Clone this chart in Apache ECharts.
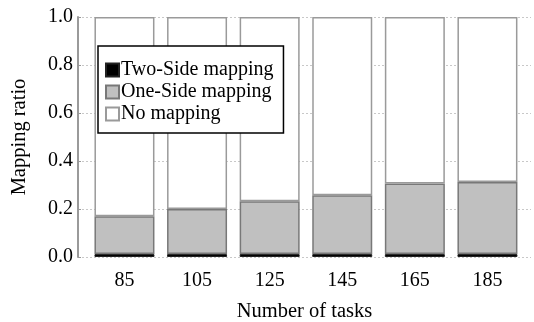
<!DOCTYPE html>
<html>
<head>
<meta charset="utf-8">
<script src="https://cdn.jsdelivr.net/npm/echarts@6/dist/echarts.min.js"></script>
<style>
  html, body { margin: 0; padding: 0; background: #fff; }
  #chart { width: 534px; height: 322px; }
</style>
</head>
<body>
<div id="chart"></div>
<script>
// Number of tasks (x positions) and mapping ratios per category
const tasks = [85, 105, 125, 145, 165, 185];
const twoSide = [0.012, 0.012, 0.012, 0.012, 0.012, 0.012];
const oneSide = [0.158, 0.188, 0.220, 0.245, 0.294, 0.300];
const noMapping = [0.830, 0.800, 0.768, 0.743, 0.694, 0.688];

const FONT = '"Liberation Serif", "Times New Roman", serif';

// value first so the stack runs along the ratio dimension
function pairs(vals) {
  return tasks.map((t, i) => [vals[i], t]);
}

const chart = echarts.init(document.getElementById('chart'), null, { renderer: 'canvas' });
chart.setOption({
  animation: false,
  backgroundColor: '#fff',
  grid: { left: 78, right: 3, top: 17, bottom: 65, containLabel: false, outerBoundsMode: 'none' },
  legend: {
    orient: 'vertical',
    left: 98,
    top: 46,
    padding: [14, 10, 9, 7],
    backgroundColor: '#fff',
    borderColor: '#000',
    borderWidth: 1.5,
    itemWidth: 13,
    itemHeight: 13,
    itemGap: 2,
    icon: 'rect',
    textStyle: { fontFamily: FONT, fontSize: 20, color: '#000', lineHeight: 20, padding: [0, 0, 0, -3] },
    data: ['Two-Side mapping', 'One-Side mapping', 'No mapping']
  },
  xAxis: {
    type: 'value',
    min: 72.2,
    max: 197,
    name: 'Number of tasks',
    nameLocation: 'middle',
    nameGap: 44,
    nameTextStyle: { fontFamily: FONT, fontSize: 20.5, color: '#000' },
    axisLine: { show: false },
    axisTick: { show: false },
    splitLine: { show: false },
    axisLabel: {
      customValues: tasks,
      fontFamily: FONT, fontSize: 20, color: '#000', margin: 14
    }
  },
  yAxis: {
    type: 'value',
    min: 0,
    max: 1,
    interval: 0.2,
    name: 'Mapping ratio',
    nameLocation: 'middle',
    nameGap: 48,
    nameTextStyle: { fontFamily: FONT, fontSize: 20.5, color: '#000' },
    axisLine: { show: true, lineStyle: { color: '#9a9a9a', width: 2 } },
    axisTick: { show: true, inside: true, length: 3, lineStyle: { color: '#9a9a9a' } },
    splitLine: { show: true, lineStyle: { color: '#c8c8c8', type: [2, 2], width: 1 } },
    axisLabel: {
      fontFamily: FONT, fontSize: 20, color: '#000', margin: 5,
      formatter: v => v.toFixed(1)
    }
  },
  series: [
    {
      name: 'Two-Side mapping', type: 'bar', stack: 'ratio', barWidth: 60,
      encode: { x: 1, y: 0 },
      data: pairs(twoSide),
      itemStyle: { color: '#000', borderColor: '#222', borderWidth: 1 }
    },
    {
      name: 'One-Side mapping', type: 'bar', stack: 'ratio', barWidth: 60,
      encode: { x: 1, y: 0 },
      data: pairs(oneSide),
      itemStyle: { color: '#c0c0c0', borderColor: '#787878', borderWidth: 1.5 }
    },
    {
      name: 'No mapping', type: 'bar', stack: 'ratio', barWidth: 60,
      encode: { x: 1, y: 0 },
      data: pairs(noMapping),
      itemStyle: { color: '#fff', borderColor: '#9a9a9a', borderWidth: 1.5 }
    }
  ]
});
</script>
</body>
</html>
